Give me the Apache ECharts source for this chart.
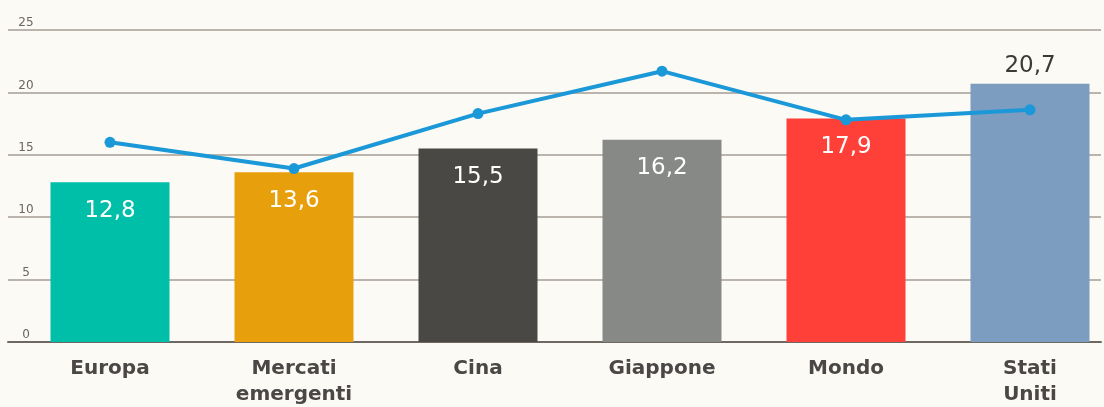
<!DOCTYPE html>
<html>
<head>
<meta charset="utf-8">
<script src="https://cdn.jsdelivr.net/npm/echarts@6/dist/echarts.min.js"></script>
<style>
html,body{margin:0;padding:0;background:#fbfaf4;}
#c{width:1104px;height:407px;}
</style>
</head>
<body>
<div id="c"></div>
<script>
const categories = ['Europa', 'Mercati\nemergenti', 'Cina', 'Giappone', 'Mondo', 'Stati\nUniti'];
const barValues = [12.8, 13.6, 15.5, 16.2, 17.9, 20.7];
const lineValues = [16.0, 13.9, 18.3, 21.7, 17.8, 18.6];
const barColors = ['#00bfa9', '#e89f0c', '#4a4845', '#878987', '#ff4038', '#7c9cc0'];
const yTicks = [0, 5, 10, 15, 20, 25];

const chart = echarts.init(document.getElementById('c'), null, {renderer: 'canvas'});
const fmt = v => String(v.toFixed(1)).replace('.', ',');

chart.setOption({
  backgroundColor: '#fbfaf4',
  animation: false,
  grid: [
    {left: 8, right: 3, top: 30, bottom: 65, containLabel: false, outerBoundsMode: 'none'},
    {left: 18, width: 1104, top: 30, bottom: 65, containLabel: false, outerBoundsMode: 'none'}
  ],
  xAxis: [
    {gridIndex: 0, type: 'value', min: 0, max: 1, show: true,
     axisLine: {show: true, lineStyle: {color: '#6f6762', width: 2}},
     axisTick: {show: false}, axisLabel: {show: false}, splitLine: {show: false}},
    {gridIndex: 1, type: 'category', data: categories,
     axisLine: {show: false}, axisTick: {show: false},
     axisLabel: {color: '#4a4746', fontFamily: 'DejaVu Sans', fontWeight: 'bold', fontSize: 20,
                 lineHeight: 26, margin: 14, interval: 0}}
  ],
  yAxis: [
    {gridIndex: 0, type: 'value', min: 0, max: 25, interval: 5,
     axisLine: {show: false}, axisTick: {show: false},
     axisLabel: {inside: true, align: 'center', verticalAlign: 'bottom', margin: 18,
                 padding: [0, 0, 1, 0], color: '#6b6560', fontSize: 12, fontFamily: 'DejaVu Sans',
                 formatter: v => yTicks.includes(v) ? String(v) : ''},
     splitLine: {show: true, lineStyle: {color: '#a49c95', width: 1.5}}},
    {gridIndex: 1, type: 'value', min: 0, max: 25, show: false, splitLine: {show: false}}
  ],
  series: [
    {type: 'bar', xAxisIndex: 1, yAxisIndex: 1, barWidth: 119,
     data: barValues.map((v, i) => ({
       value: v,
       itemStyle: {color: barColors[i]},
       label: i === barValues.length - 1
         ? {show: true, position: 'top', distance: 6, color: '#3c3a38', fontSize: 23, fontFamily: 'DejaVu Sans',
            formatter: p => fmt(p.value)}
         : {show: true, position: 'insideTop', distance: 17, color: '#ffffff', fontSize: 23, fontFamily: 'DejaVu Sans',
            formatter: p => fmt(p.value)}
     })),
     z: 2},
    {type: 'line', xAxisIndex: 1, yAxisIndex: 1, data: lineValues,
     symbol: 'circle', symbolSize: 11,
     lineStyle: {color: '#1a98d8', width: 4},
     itemStyle: {color: '#1a98d8'},
     z: 5}
  ]
});
</script>
</body>
</html>
